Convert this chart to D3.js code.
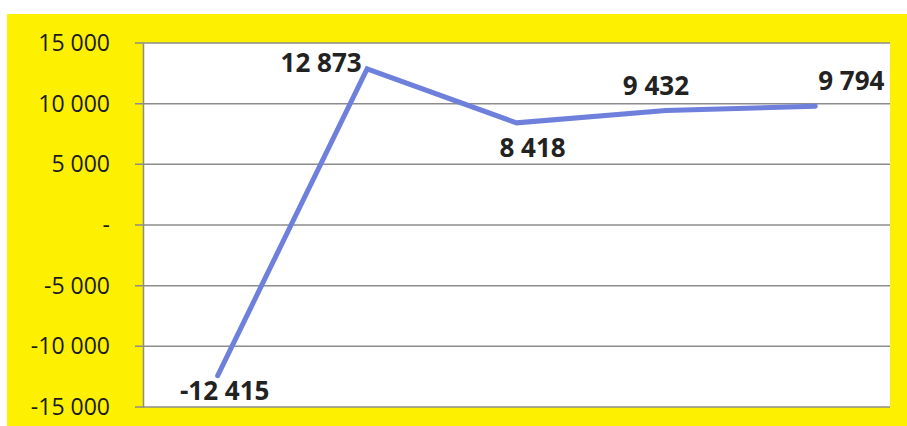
<!DOCTYPE html>
<html>
<head>
<meta charset="utf-8">
<script src="https://cdn.jsdelivr.net/npm/d3@7"></script>
<style>
  html, body { margin:0; padding:0; background:#fff; }
  svg text { font-family:"Open Sans", "DejaVu Sans", sans-serif; }
</style>
</head>
<body>
<div class="chart-sec"></div>
<script>
(function(){
  'use strict';

  // data
  var categories = ['1', '2', '3', '4', '5'];
  var values = [-12415, 12873, 8418, 9432, 9794];
  var valueLabels = ['-12 415', '12 873', '8 418', '9 432', '9 794'];
  var tickValues = [-15000, -10000, -5000, 0, 5000, 10000, 15000];
  var tickLabels = ['-15 000', '-10 000', '-5 000', '-', '5 000', '10 000', '15 000'];

  // label placement (layout only)
  var labelDx = [7, -46, 16, -10, 36];
  var labelDy = [24, 3, 34, -16, -16];

  var W = 907, H = 426;
  var plot = { left:143, right:890, top:43, bottom:407 };

  var svg = d3.select('.chart-sec').append('svg')
    .attr('width', W).attr('height', H);

  // yellow frame
  svg.append('rect').attr('x', 7).attr('y', 14).attr('width', W - 7).attr('height', H - 14)
    .attr('fill', '#fdf000');
  svg.append('rect').attr('x', plot.left).attr('y', plot.top)
    .attr('width', plot.right - plot.left).attr('height', plot.bottom - plot.top)
    .attr('fill', '#ffffff');

  var x = d3.scalePoint().domain(categories).range([plot.left, plot.right]).padding(0.5);
  var y = d3.scaleLinear().domain([-15000, 15000]).range([plot.bottom, plot.top]);

  // gridlines
  svg.append('g').selectAll('line').data(tickValues).enter().append('line')
    .attr('x1', plot.left - 8).attr('x2', plot.right)
    .attr('y1', function(d){ return y(d); }).attr('y2', function(d){ return y(d); })
    .attr('stroke', '#8c8c8c').attr('stroke-width', 1.5);

  // y axis
  var axis = d3.axisLeft(y).tickValues(tickValues).tickSize(0).tickPadding(33)
    .tickFormat(function(d, i){ return tickLabels[i]; });
  var ag = svg.append('g').attr('transform', 'translate(' + plot.left + ',0)').call(axis);
  ag.select('.domain').attr('stroke', '#8c8c8c').attr('stroke-width', 1.5);
  ag.selectAll('text').attr('font-size', 23).attr('fill', '#1a1a1a')
    .attr('font-family', '"Open Sans", sans-serif');

  // line
  var line = d3.line()
    .x(function(d, i){ return x(categories[i]); })
    .y(function(d){ return y(d); });
  svg.append('path').datum(values)
    .attr('d', line)
    .attr('fill', 'none')
    .attr('stroke', '#6e80db')
    .attr('stroke-width', 5)
    .attr('stroke-linejoin', 'miter')
    .attr('stroke-linecap', 'round');

  // value labels
  svg.append('g').selectAll('text').data(values).enter().append('text')
    .attr('x', function(d, i){ return x(categories[i]) + labelDx[i]; })
    .attr('y', function(d, i){ return y(d) + labelDy[i]; })
    .attr('text-anchor', 'middle')
    .attr('font-size', 26).attr('font-weight', 'bold').attr('fill', '#222')
    .text(function(d, i){ return valueLabels[i]; });

})();
</script>
</body>
</html>
